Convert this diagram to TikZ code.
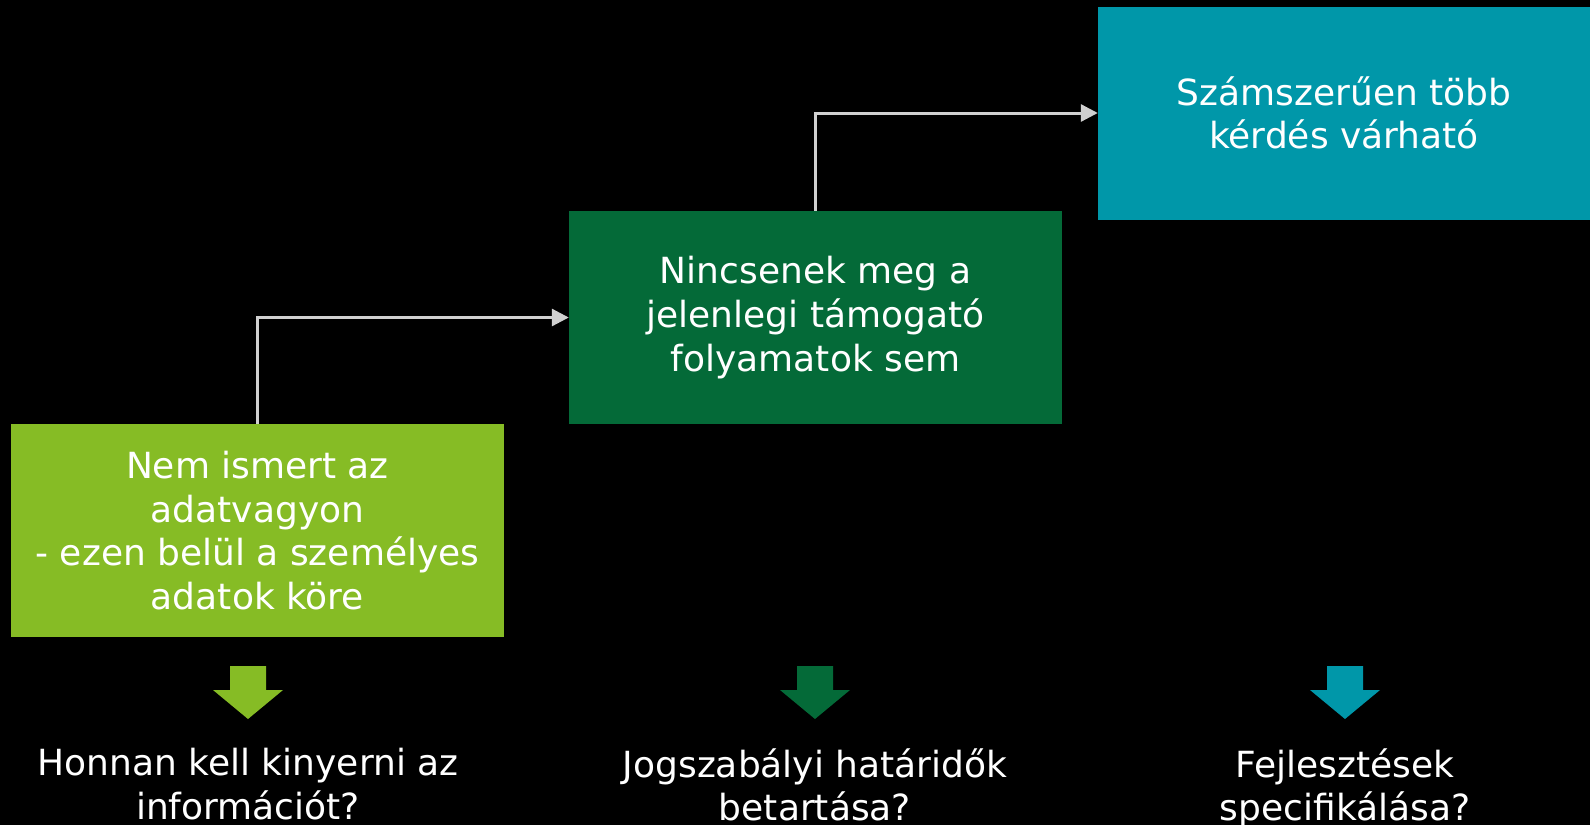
\documentclass[tikz,border=0pt]{standalone}
\usepackage{fontspec}
\setmainfont{DejaVu Sans}
\usetikzlibrary{arrows.meta}
\definecolor{lgreen}{HTML}{86BC25}
\definecolor{dgreen}{HTML}{046A38}
\definecolor{teal}{HTML}{0097A9}
\definecolor{conn}{HTML}{D0D0D0}
\tikzset{
  box/.style={minimum width=493pt, minimum height=213pt, inner sep=0pt, text=white, align=center, font=\fontsize{36}{43.6}\selectfont},
  conline/.style={draw=conn, line width=3pt, -{Triangle[length=17pt,width=17pt]}},
  qtext/.style={text=white, align=center, inner sep=0pt, font=\fontsize{36}{43.6}\selectfont},
}
\newcommand{\downarrowshape}[2]{%
  \fill[#2] ($(#1)+(-18,0)$) -- ($(#1)+(18,0)$) -- ($(#1)+(18,24)$) -- ($(#1)+(35,24)$) -- ($(#1)+(0,53)$) -- ($(#1)+(-35,24)$) -- ($(#1)+(-18,24)$) -- cycle;}
\usetikzlibrary{calc}
\begin{document}
\begin{tikzpicture}[x=1pt,y=-1pt]
\fill[black] (0,0) rectangle (1590,825);
\useasboundingbox (0,0) rectangle (1590,825);
\node[box, fill=lgreen, minimum width=493pt] (a) at (257.5,530.5) {Nem ismert az\\adatvagyon\\- ezen belül a személyes\\adatok köre};
\node[box, fill=dgreen] (b) at (815.5,317.5) {Nincsenek meg a\\jelenlegi támogató\\folyamatok sem};
\node[box, fill=teal, minimum width=492pt] (c) at (1344,113) {Számszerűen több\\kérdés várható};
\draw[conline] (a.north) |- (b.west);
\draw[conline] (b.north) |- (c.west);
\coordinate (d1) at (248,666);
\coordinate (d2) at (815,666);
\coordinate (d3) at (1345,666);
\downarrowshape{d1}{lgreen}
\downarrowshape{d2}{dgreen}
\downarrowshape{d3}{teal}
\node[qtext, anchor=north] (q1) at (248,748) {Honnan kell kinyerni az\\információt?};
\node[qtext, anchor=north] (q2) at (815,748) {Jogszabályi határidők\\betartása?};
\node[qtext, anchor=north] (q3) at (1345,748) {Fejlesztések\\specifikálása?};
\end{tikzpicture}
\end{document}
